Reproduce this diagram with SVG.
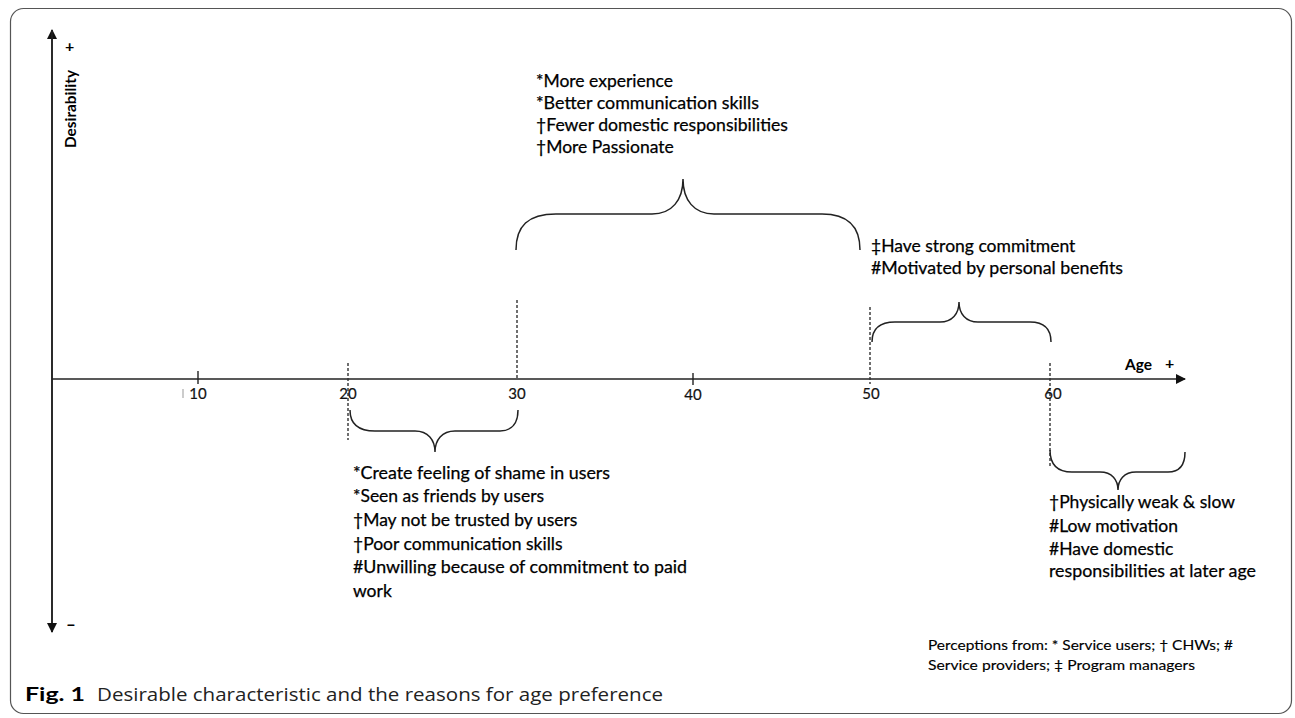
<svg xmlns="http://www.w3.org/2000/svg" width="1295" height="718" viewBox="0 0 1295 718">
<defs>
<marker id="arr" viewBox="0 0 10 10" refX="9" refY="5" markerWidth="10" markerHeight="10" markerUnits="userSpaceOnUse" orient="auto">
<path d="M0,0 L10,5 L0,10 Z" fill="#111"/>
</marker>
<style>
.t{font-family:Lato,"Liberation Sans",sans-serif;font-size:17.5px;fill:#000;stroke:#000;stroke-width:0.25}
.n{font-family:Lato,"Liberation Sans",sans-serif;font-size:15px;fill:#111;stroke:#111;stroke-width:0.2;text-anchor:middle}
.b{font-family:Lato,"Liberation Sans",sans-serif;font-weight:bold;fill:#000}
.l{font-family:Lato,"Liberation Sans",sans-serif;font-size:14px;fill:#000;stroke:#000;stroke-width:0.15}
.ax{stroke:#222;stroke-width:1.6;fill:none}
.dash{stroke:#333;stroke-width:1.4;stroke-dasharray:3 2;fill:none}
.tick{stroke:#222;stroke-width:1.4}
.br{stroke:#222;stroke-width:1.5;fill:none}
</style>
</defs>
<rect x="10.5" y="8.5" width="1281" height="705" rx="13" fill="#fff" stroke="#555" stroke-width="1.2"/>
<g id="axes" class="connectors">
<line class="ax" x1="52" y1="632" x2="52" y2="30" marker-end="url(#arr)"/>
<line class="ax" x1="52" y1="30" x2="52" y2="632" marker-end="url(#arr)"/>
<line class="ax" x1="52" y1="379" x2="1185" y2="379" marker-end="url(#arr)"/>
<line class="tick" x1="198" y1="371" x2="198" y2="384"/>
<line class="tick" x1="693" y1="373" x2="693" y2="385"/>
<line x1="183" y1="389" x2="183" y2="398" stroke="#999" stroke-width="1"/>
<line class="dash" x1="348" y1="363" x2="348" y2="440"/>
<line class="dash" x1="517" y1="300" x2="517" y2="379"/>
<line class="dash" x1="870" y1="307" x2="870" y2="384"/>
<line class="dash" x1="1050" y1="363" x2="1050" y2="468"/>
</g>
<g id="axis-labels">
<text class="b" font-size="16" transform="translate(76,109) rotate(-90)" text-anchor="middle" textLength="78" lengthAdjust="spacingAndGlyphs">Desirability</text>
<text class="b" font-size="16" x="65" y="52">+</text>
<text class="b" font-size="17" x="66" y="630">–</text>
<text class="b" font-size="16" x="1125" y="370" textLength="27" lengthAdjust="spacingAndGlyphs">Age</text>
<text class="b" font-size="16" x="1165" y="369">+</text>
<text class="n" x="198" y="399">10</text>
<text class="n" x="348" y="399">20</text>
<text class="n" x="517" y="399">30</text>
<text class="n" x="693" y="400">40</text>
<text class="n" x="871" y="399">50</text>
<text class="n" x="1053" y="399">60</text>
</g>
<g id="brace-30-50">
<path class="br" d="M516,250 C516,226 528,214 556,214 L652,214 C672,214 683,200 683,179 C683,200 694,214 714,214 L822,214 C848,214 860,226 860,250"/>
<text class="t" x="536" y="87">*More experience</text>
<text class="t" x="536" y="109" textLength="223" lengthAdjust="spacingAndGlyphs">*Better communication skills</text>
<text class="t" x="536" y="131" textLength="252" lengthAdjust="spacingAndGlyphs">†Fewer domestic responsibilities</text>
<text class="t" x="536" y="153">†More Passionate</text>
</g>
<g id="brace-50-60">
<path class="br" d="M872,342 C872,330 878,322 895,322 L940,322 C952,322 959,314 959,302 C959,314 966,322 978,322 L1030,322 C1045,322 1051,330 1051,342"/>
<text class="t" x="871" y="252">‡Have strong commitment</text>
<text class="t" x="871" y="274" textLength="252" lengthAdjust="spacingAndGlyphs">#Motivated by personal benefits</text>
</g>
<g id="brace-20-30">
<path class="br" d="M350,410 C350,423 357,431 375,431 L415,431 C428,431 435,440 435,452 C435,440 442,431 455,431 L500,431 C512,431 518,423 518,410"/>
<text class="t" x="353" y="479" textLength="257" lengthAdjust="spacingAndGlyphs">*Create feeling of shame in users</text>
<text class="t" x="353" y="502">*Seen as friends by users</text>
<text class="t" x="353" y="526">†May not be trusted by users</text>
<text class="t" x="353" y="550">†Poor communication skills</text>
<text class="t" x="353" y="573" textLength="334" lengthAdjust="spacingAndGlyphs">#Unwilling because of commitment to paid</text>
<text class="t" x="353" y="597">work</text>
</g>
<g id="brace-60">
<path class="br" d="M1050,450 C1050,464 1056,472 1072,472 L1100,472 C1112,472 1118,480 1118,490 C1118,480 1124,472 1136,472 L1168,472 C1180,472 1185,464 1185,452"/>
<text class="t" x="1049" y="508" textLength="186" lengthAdjust="spacingAndGlyphs">†Physically weak &amp; slow</text>
<text class="t" x="1049" y="532">#Low motivation</text>
<text class="t" x="1049" y="555">#Have domestic</text>
<text class="t" x="1049" y="577" textLength="207" lengthAdjust="spacingAndGlyphs">responsibilities at later age</text>
</g>
<g id="legend">
<text class="l" x="928" y="650" textLength="305" lengthAdjust="spacingAndGlyphs">Perceptions from: * Service users; † CHWs; #</text>
<text class="l" x="928" y="670" textLength="267" lengthAdjust="spacingAndGlyphs">Service providers; ‡ Program managers</text>
</g>
<g id="caption">
<text class="b" font-size="18" x="25" y="701" textLength="60" lengthAdjust="spacingAndGlyphs">Fig. 1</text>
<text font-family="'Open Sans','Noto Sans',sans-serif" font-size="18.5" fill="#222" x="97" y="701" textLength="566" lengthAdjust="spacingAndGlyphs">Desirable characteristic and the reasons for age preference</text>
</g>
</svg>
